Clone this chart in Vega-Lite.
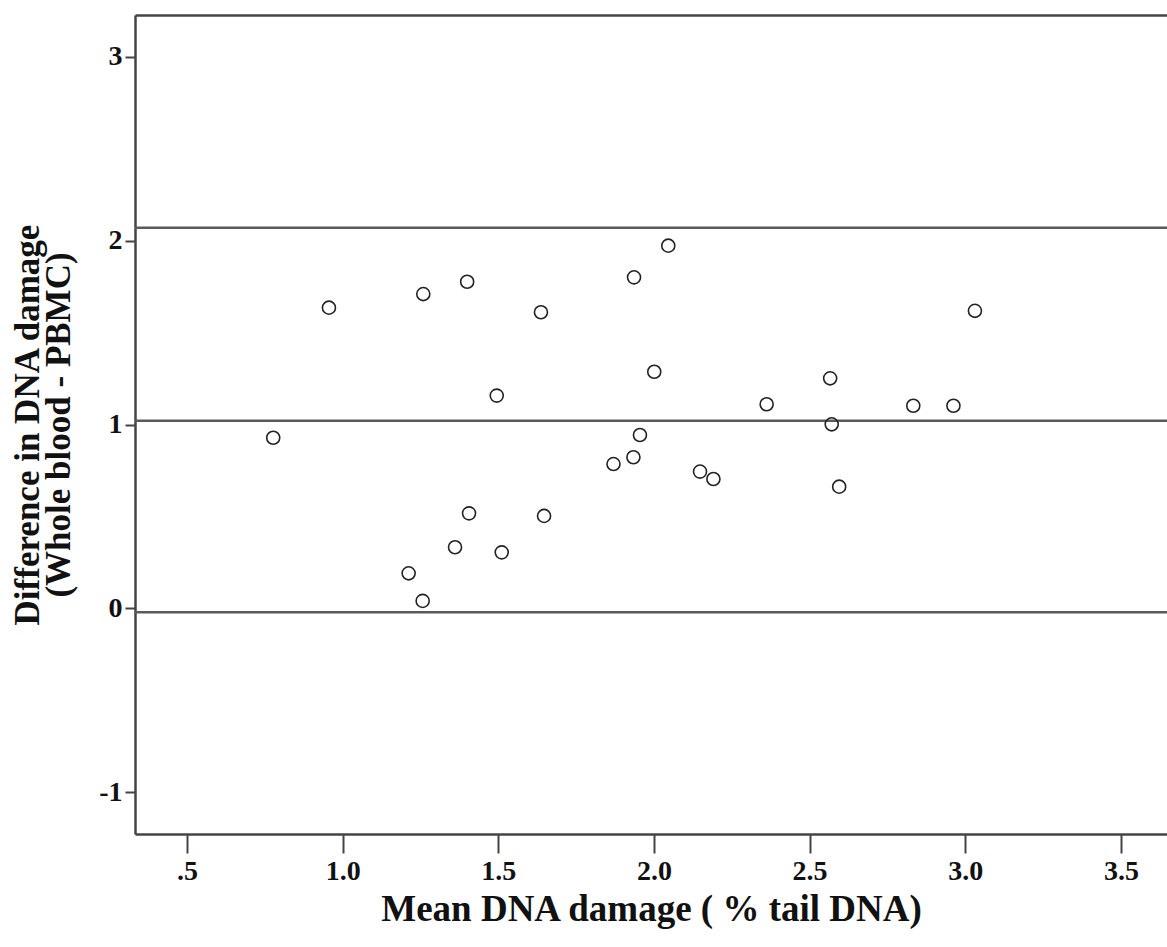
{
  "$schema": "https://vega.github.io/schema/vega-lite/v6.json",
  "width": 1032,
  "height": 819,
  "autosize": {"type": "none"},
  "padding": {"left": 135, "top": 15, "right": 0, "bottom": 113},
  "background": "white",
  "config": {
    "view": {"stroke": null},
    "axis": {
      "grid": false,
      "labelFont": "Liberation Serif",
      "labelFontWeight": "bold",
      "labelFontSize": 28,
      "labelColor": "#111",
      "titleFont": "Liberation Serif",
      "titleFontWeight": "bold",
      "titleColor": "#111",
      "domainColor": "#444",
      "domainWidth": 2.5,
      "tickColor": "#444",
      "tickWidth": 2
    }
  },
  "datasets": {
    "points": [
      {"mean": 0.777, "diff": 0.928},
      {"mean": 0.956, "diff": 1.635},
      {"mean": 1.212, "diff": 0.191},
      {"mean": 1.257, "diff": 0.041},
      {"mean": 1.259, "diff": 1.709},
      {"mean": 1.361, "diff": 0.333},
      {"mean": 1.400, "diff": 1.776},
      {"mean": 1.406, "diff": 0.517},
      {"mean": 1.495, "diff": 1.157},
      {"mean": 1.511, "diff": 0.305},
      {"mean": 1.637, "diff": 1.610},
      {"mean": 1.647, "diff": 0.503},
      {"mean": 1.870, "diff": 0.785},
      {"mean": 1.934, "diff": 0.822},
      {"mean": 1.936, "diff": 1.800},
      {"mean": 1.955, "diff": 0.943},
      {"mean": 2.001, "diff": 1.287},
      {"mean": 2.046, "diff": 1.972},
      {"mean": 2.148, "diff": 0.744},
      {"mean": 2.191, "diff": 0.704},
      {"mean": 2.362, "diff": 1.110},
      {"mean": 2.566, "diff": 1.251},
      {"mean": 2.571, "diff": 1.001},
      {"mean": 2.595, "diff": 0.662},
      {"mean": 2.833, "diff": 1.102},
      {"mean": 2.962, "diff": 1.102},
      {"mean": 3.031, "diff": 1.618}
    ],
    "lines": [
      {"line": "upper limit", "diff": 2.07},
      {"line": "mean difference", "diff": 1.02},
      {"line": "lower limit", "diff": -0.02}
    ]
  },
  "encoding": {
    "y": {
      "field": "diff", "type": "quantitative",
      "scale": {"domain": [-1.226, 3.226], "nice": false, "zero": false},
      "axis": {
        "orient": "left",
        "values": [-1, 0, 1, 2, 3],
        "labelExpr": "'' + datum.value",
        "tickSize": 10,
        "labelPadding": 3,
        "title": ["Difference in DNA damage", "(Whole blood - PBMC)"],
        "titleFontSize": 35,
        "titleLineHeight": 31,
        "titlePadding": 22
      }
    }
  },
  "layer": [
    {
      "data": {"name": "lines"},
      "mark": {"type": "rule", "color": "#5a5a5a", "strokeWidth": 2.5}
    },
    {
      "data": {"name": "points"},
      "mark": {"type": "point", "shape": "circle", "filled": false, "color": "#222", "strokeWidth": 1.6, "size": 170, "opacity": 1},
      "encoding": {
        "x": {
          "field": "mean", "type": "quantitative",
          "scale": {"domain": [0.333, 3.648], "nice": false, "zero": false},
          "axis": {
            "orient": "bottom",
            "values": [0.5, 1, 1.5, 2, 2.5, 3, 3.5],
            "labelExpr": "datum.value == 0.5 ? '.5' : format(datum.value, '.1f')",
            "tickSize": 19,
            "labelPadding": 4,
            "title": "Mean DNA damage ( % tail DNA)",
            "titleFontSize": 37,
            "titlePadding": 6
          }
        }
      }
    },
    {
      "data": {"name": "points"},
      "mark": {"type": "point", "opacity": 0},
      "encoding": {
        "x": {
          "field": "mean", "type": "quantitative",
          "axis": {"orient": "top", "labels": false, "ticks": false, "title": null, "domain": true}
        }
      }
    }
  ],
  "resolve": {"axis": {"x": "independent"}}
}
